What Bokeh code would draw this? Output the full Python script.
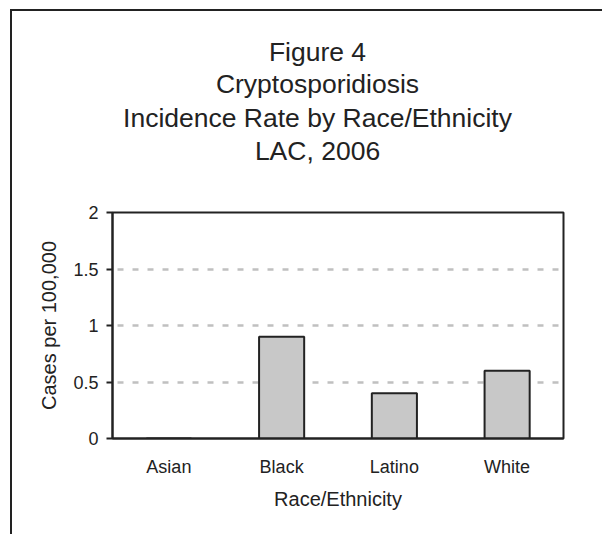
from bokeh.plotting import figure
from bokeh.layouts import column
from bokeh.models import Range1d, FixedTicker
from bokeh.core.properties import value
from bokeh.embed import file_html
from bokeh.resources import INLINE

categories = ["Asian", "Black", "Latino", "White"]
rates = [0.0, 0.9, 0.4, 0.6]
y_ticks = [0, 0.5, 1, 1.5, 2]
y_tick_labels = ["0", "0.5", "1", "1.5", "2"]
title_lines = ["Figure 4", "Cryptosporidiosis", "Incidence Rate by Race/Ethnicity", "LAC, 2006"]
x_title = "Race/Ethnicity"
y_title = "Cases per 100,000"

FONT = "Liberation Sans"
DARK = "#222222"
BL, BR = 100, 39   # left / right borders shared by both figures (frames are aligned)

# ---- title block (a bare figure whose x range is in page pixels) ----
TH = 180
t = figure(width=590, height=TH, x_range=Range1d(112, 563), y_range=Range1d(0, TH),
           output_backend="svg", toolbar_location=None,
           x_axis_location=None, y_axis_location=None,
           min_border=0, min_border_left=BL, min_border_right=BR,
           min_border_top=0, min_border_bottom=0)
t.grid.grid_line_color = None
t.outline_line_color = None
t.background_fill_color = "white"
t.border_fill_color = "white"
title_x = [317] * len(title_lines)
title_y = [140, 107.5, 73.5, 41]
t.text(x=title_x, y=title_y, text=title_lines, text_align="center", text_baseline="alphabetic",
       text_font=value(FONT), text_font_size="26.5px", text_color=DARK)

# ---- chart ----
p = figure(x_range=categories, y_range=Range1d(0, 2), width=590, height=343,
           output_backend="svg", toolbar_location=None,
           min_border_left=BL, min_border_right=BR, min_border_top=21, min_border_bottom=96)
p.background_fill_color = "white"
p.border_fill_color = "white"
p.outline_line_color = DARK
p.outline_line_width = 2

p.vbar(x=categories, top=rates, width=0.4, fill_color="#c8c8c8", line_color=DARK, line_width=2)

# y axis
p.yaxis.ticker = FixedTicker(ticks=y_ticks)
p.yaxis.major_label_overrides = {tk: lb for tk, lb in zip(y_ticks, y_tick_labels)}
p.yaxis.axis_line_color = DARK
p.yaxis.axis_line_width = 2
p.yaxis.major_tick_line_color = DARK
p.yaxis.major_tick_line_width = 2
p.yaxis.major_tick_out = 6
p.yaxis.major_tick_in = 0
p.yaxis.minor_tick_line_color = None
p.yaxis.major_label_standoff = 8
p.yaxis.major_label_text_font = FONT
p.yaxis.major_label_text_font_size = "18px"
p.yaxis.major_label_text_color = DARK
p.yaxis.axis_label = y_title
p.yaxis.axis_label_text_font = FONT
p.yaxis.axis_label_text_font_size = "20px"
p.yaxis.axis_label_text_font_style = "normal"
p.yaxis.axis_label_text_color = DARK
p.yaxis.axis_label_standoff = 10

# x axis
p.xaxis.axis_line_color = DARK
p.xaxis.axis_line_width = 2
p.xaxis.major_tick_line_color = None
p.xaxis.major_tick_out = 0
p.xaxis.major_tick_in = 0
p.xaxis.minor_tick_line_color = None
p.xaxis.major_label_standoff = 18
p.xaxis.major_label_text_font = FONT
p.xaxis.major_label_text_font_size = "18px"
p.xaxis.major_label_text_color = DARK
p.xaxis.axis_label = x_title
p.xaxis.axis_label_text_font = FONT
p.xaxis.axis_label_text_font_size = "20px"
p.xaxis.axis_label_text_font_style = "normal"
p.xaxis.axis_label_text_color = DARK
p.xaxis.axis_label_standoff = 8

# grid
p.xgrid.grid_line_color = None
p.ygrid.ticker = FixedTicker(ticks=[0.5, 1, 1.5])
p.ygrid.grid_line_color = "#c0c0c0"
p.ygrid.grid_line_width = 2.5
p.ygrid.grid_line_dash = "6 9"
p.ygrid.grid_line_dash_offset = 10

layout = column(t, p, spacing=0)
layout.styles = {"border-left": "2px solid #222222", "border-top": "2px solid #222222",
                 "margin-left": "10px", "margin-top": "9px"}

open("out.html", "w").write(file_html(layout, INLINE))
